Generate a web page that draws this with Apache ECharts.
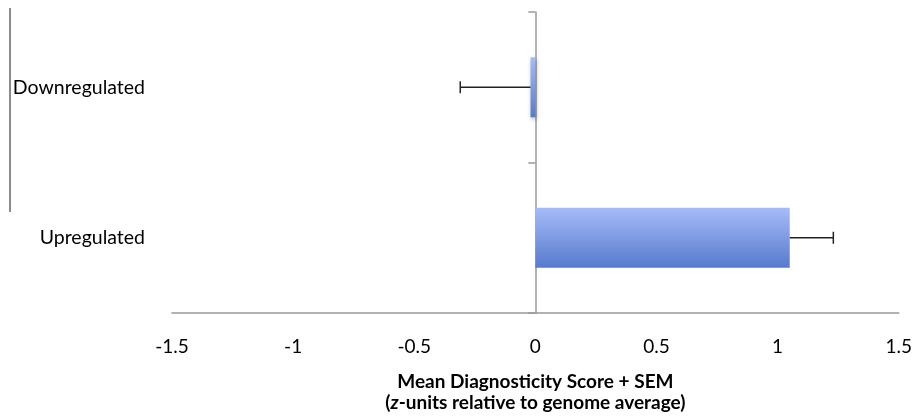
<!DOCTYPE html>
<html>
<head>
<meta charset="utf-8">
<script src="https://cdn.jsdelivr.net/npm/echarts@6/dist/echarts.min.js"></script>
<style>
html,body{margin:0;padding:0;background:#fff;}
#chart{width:915px;height:417px;}
</style>
</head>
<body>
<div id="chart"></div>
<script>
// Data (bottom to top)
var categories = ['Upregulated', 'Downregulated'];
var meanValues = [1.05, -0.02];
var semValues = [0.18, 0.29];
var xTicks = [-1.5, -1, -0.5, 0, 0.5, 1, 1.5];

var errData = categories.map(function (c, i) {
  var m = meanValues[i];
  var end = m + (m < 0 ? -semValues[i] : semValues[i]);
  return [i, m, end];
});

var chart = echarts.init(document.getElementById('chart'));
var font = 'Lato, "Open Sans", sans-serif';

chart.setOption({
  animation: false,
  backgroundColor: '#fff',
  grid: { left: 172, right: 13, top: 12, bottom: 102, containLabel: false },
  xAxis: {
    type: 'value',
    min: xTicks[0],
    max: xTicks[xTicks.length - 1],
    interval: 0.5,
    axisLine: { show: true, onZero: false, lineStyle: { color: '#999', width: 1.5 } },
    axisTick: { show: false },
    splitLine: { show: false },
    axisLabel: { color: '#000', fontSize: 19, fontFamily: font, margin: 24 },
    name: '',
    nameLocation: 'middle',
    nameGap: 58,
    nameTextStyle: {
      rich: {
        b: { fontSize: 19, fontWeight: 'bold', fontFamily: font, color: '#000', lineHeight: 21 },
        i: { fontSize: 19, fontWeight: 'bold', fontStyle: 'italic', fontFamily: font, color: '#000', lineHeight: 21 }
      }
    }
  },
  yAxis: [
    {
      type: 'category',
      data: categories,
      position: 'left',
      axisLine: { show: false, onZero: false },
      axisTick: { show: false },
      axisLabel: { color: '#000', fontSize: 19.5, fontFamily: font, margin: 27 }
    },
    {
      type: 'category',
      data: categories,
      position: 'left',
      axisLine: { show: true, onZero: true, lineStyle: { color: '#999', width: 1.5 } },
      axisTick: { show: true, length: 7, lineStyle: { color: '#999', width: 1.5 } },
      axisLabel: { show: false }
    }
  ],
  graphic: [
    { type: 'line', shape: { x1: 10, y1: 8, x2: 10, y2: 212 }, style: { stroke: '#666', lineWidth: 1.5 } }
  ],
  series: [
    {
      type: 'bar',
      data: meanValues,
      barWidth: '40%',
      yAxisIndex: 0,
      itemStyle: {
        color: new echarts.graphic.LinearGradient(0, 0, 0, 1, [
          { offset: 0, color: '#a6bcf8' },
          { offset: 1, color: '#567ace' }
        ]),
        shadowColor: 'rgba(0,0,0,0.3)',
        shadowBlur: 4,
        shadowOffsetX: 1,
        shadowOffsetY: 2
      }
    },
    {
      type: 'custom',
      yAxisIndex: 0,
      data: errData,
      z: 5,
      renderItem: function (params, api) {
        var cat = api.value(0);
        var m = api.value(1);
        var e = api.value(2);
        var p0 = api.coord([m, cat]);
        var p1 = api.coord([e, cat]);
        var cap = 6;
        return {
          type: 'group',
          children: [
            { type: 'line', shape: { x1: p0[0], y1: p0[1], x2: p1[0], y2: p1[1] }, style: { stroke: '#222', lineWidth: 1.5 } },
            { type: 'line', shape: { x1: p1[0], y1: p1[1] - cap, x2: p1[0], y2: p1[1] + cap }, style: { stroke: '#222', lineWidth: 1.5 } }
          ]
        };
      },
      encode: { x: [1, 2], y: 0 }
    }
  ]
});

chart.setOption({
  xAxis: {
    name: '{b|Mean Diagnosticity Score + SEM}\n{b|(}{i|z}{b|-units relative to genome average)}'
  }
});
</script>
</body>
</html>
